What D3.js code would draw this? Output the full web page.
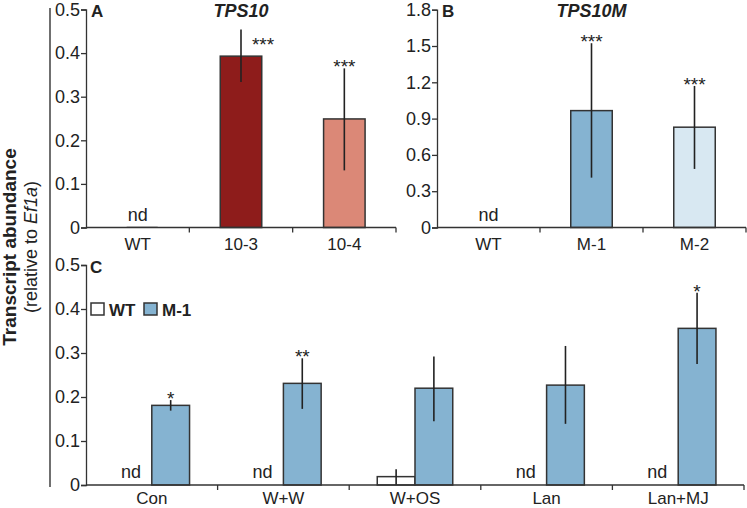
<!DOCTYPE html>
<html lang="en">
<head>
<meta charset="UTF-8">
<title>TPS10 transcripts</title>
<script src="https://d3js.org/d3.v7.min.js"></script>
<style>
  body { margin: 0; background: #fff; }
  text { font-family: "Liberation Sans", Arial, sans-serif; fill: #222; }
</style>
</head>
<body>
<div id="chart"></div>
<script>
// panel A
const catsA = ["WT", "10-3", "10-4"];
const valsA = [0, 0.393, 0.249];
const errHiA = [null, 0.454, 0.365];
const errLoA = [null, 0.334, 0.131];
const starsA = ["", "***", "***"];
const colorsA = ["#ffffff", "#8e1c1b", "#db8877"];
const ticksA = [0, 0.1, 0.2, 0.3, 0.4, 0.5];

// panel B
const catsB = ["WT", "M-1", "M-2"];
const valsB = [0, 0.966, 0.829];
const errHiB = [null, 1.523, 1.17];
const errLoB = [null, 0.412, 0.484];
const starsB = ["", "***", "***"];
const colorsB = ["#ffffff", "#85b3d1", "#d8e8f2"];
const ticksB = [0, 0.3, 0.6, 0.9, 1.2, 1.5, 1.8];

// panel C
const catsC = ["Con", "W+W", "W+OS", "Lan", "Lan+MJ"];
const seriesC = ["WT", "M-1"];
const wtC = [0, 0, 0.019, 0, 0];
const wtHiC = [null, null, 0.036, null, null];
const wtLoC = [null, null, 0.0, null, null];
const wtNd = [true, true, false, true, true];
const m1C = [0.181, 0.231, 0.22, 0.227, 0.356];
const m1HiC = [0.193, 0.288, 0.292, 0.316, 0.437];
const m1LoC = [0.169, 0.173, 0.145, 0.139, 0.275];
const starsC = ["*", "**", "", "", "*"];
const colorsC = ["#ffffff", "#85b3d1"];
const ticksC = [0, 0.1, 0.2, 0.3, 0.4, 0.5];

const W = 747, H = 508;
const svg = d3.select("#chart").append("svg")
  .attr("width", W).attr("height", H);

const axisCol = "#333";

function yAxis(g, y, ticks, fmt) {
  const ax = g.append("g")
    .call(d3.axisLeft(y).tickValues(ticks).tickSize(5).tickPadding(1).tickFormat(fmt));
  ax.select(".domain").attr("stroke", axisCol).attr("stroke-width", 1.3);
  ax.selectAll(".tick line").attr("stroke", axisCol).attr("stroke-width", 1.3);
  ax.selectAll(".tick text").style("font-size", "18px").attr("fill", "#222");
  return ax;
}

function xAxis(g, x, y0, dy) {
  // baseline with tick marks at band boundaries
  const r = x.range();
  g.append("line").attr("x1", r[0]).attr("x2", r[1]).attr("y1", y0).attr("y2", y0)
    .attr("stroke", axisCol).attr("stroke-width", 1.3);
  const bounds = x.domain().slice(1).map(d => x(d)).concat([r[1]]);
  g.selectAll(".bt").data(bounds).enter().append("line")
    .attr("x1", d => d).attr("x2", d => d).attr("y1", y0).attr("y2", y0 + 5)
    .attr("stroke", axisCol).attr("stroke-width", 1.3);
  g.selectAll(".xl").data(x.domain()).enter().append("text")
    .attr("x", d => x(d) + x.bandwidth() / 2).attr("y", y0 + dy)
    .attr("text-anchor", "middle").style("font-size", "17px").text(d => d);
}

function errBar(g, cx, y, hi, lo) {
  if (hi == null) return;
  g.append("line").attr("x1", cx).attr("x2", cx).attr("y1", y(hi)).attr("y2", y(lo))
    .attr("stroke", "#222").attr("stroke-width", 1.6);
}

function simplePanel(opts) {
  const g = svg.append("g");
  const x = d3.scaleBand().domain(opts.cats).range([opts.x0, opts.x1]).padding(0);
  const y = d3.scaleLinear().domain([0, opts.ymax]).range([opts.yb, opts.yt]);
  const bw = 41.5;
  opts.cats.forEach((c, i) => {
    const cx = x(c) + x.bandwidth() / 2;
    if (opts.vals[i] > 0) {
      g.append("rect").attr("x", cx - bw / 2).attr("y", y(opts.vals[i]))
        .attr("width", bw).attr("height", y(0) - y(opts.vals[i]))
        .attr("fill", opts.colors[i]).attr("stroke", "#333").attr("stroke-width", 1.5);
    } else {
      if (opts.zeroLine) {
        g.append("line").attr("x1", cx - 11).attr("x2", cx + 20).attr("y1", y(0) - 1).attr("y2", y(0) - 1)
          .attr("stroke", "#ccc").attr("stroke-width", 1);
      }
      g.append("text").attr("x", cx).attr("y", y(0) - 7).attr("text-anchor", "middle")
        .style("font-size", "18px").text("nd");
    }
    errBar(g, cx, y, opts.hi[i], opts.lo[i]);
    if (opts.stars[i]) {
      const shift = opts.starShift ? opts.starShift[i] : 0;
      const sy = opts.starY ? y(opts.starY[i]) : y(opts.hi[i]) - 3;
      g.append("text").attr("x", cx + shift).attr("y", sy + 8).attr("text-anchor", "middle")
        .style("font-size", "19px").text(opts.stars[i]);
    }
  });
  yAxis(g.append("g").attr("transform", `translate(${opts.x0},0)`), y, opts.ticks, opts.fmt);
  xAxis(g, x, y(0), 22);
  g.append("text").attr("x", opts.x0 + 5).attr("y", opts.yt + 7.5)
    .style("font-size", "17px").style("font-weight", "bold").text(opts.letter);
  g.append("text").attr("x", x(opts.cats[1]) + x.bandwidth() / 2).attr("y", opts.yt + 7)
    .attr("text-anchor", "middle").style("font-size", "18px")
    .style("font-weight", "bold").style("font-style", "italic").text(opts.title);
}

const fmtA = d => d === 0 ? "0" : d3.format(".1f")(d);

simplePanel({
  cats: catsA, vals: valsA, hi: errHiA, lo: errLoA, stars: starsA, colors: colorsA,
  ticks: ticksA, ymax: 0.5, x0: 86, x1: 396, yb: 227.5, yt: 9.5, fmt: fmtA,
  letter: "A", title: "TPS10", zeroLine: true,
  starShift: [0, 22, 0], starY: [0, 0.423, 0.373]
});

simplePanel({
  cats: catsB, vals: valsB, hi: errHiB, lo: errLoB, stars: starsB, colors: colorsB,
  ticks: ticksB, ymax: 1.8, x0: 437, x1: 746, yb: 227.5, yt: 9.7, fmt: fmtA,
  letter: "B", title: "TPS10M"
});

// panel C, grouped bars
(function () {
  const g = svg.append("g");
  const x0 = 86, x1 = 744, yb = 485, yt = 265;
  const x = d3.scaleBand().domain(catsC).range([x0, x1]).padding(0);
  const xs = d3.scaleBand().domain(seriesC).range([0, 75.5]);
  const y = d3.scaleLinear().domain([0, 0.5]).range([yb, yt]);
  catsC.forEach((c, i) => {
    const gx = x(c) + x.bandwidth() / 2 - 37.75;
    // WT bar
    const wx = gx + xs("WT");
    if (wtNd[i]) {
      g.append("text").attr("x", wx + xs.bandwidth() / 2 - 2).attr("y", yb - 7)
        .attr("text-anchor", "middle").style("font-size", "18px").text("nd");
    } else {
      g.append("rect").attr("x", wx).attr("y", y(wtC[i])).attr("width", xs.bandwidth())
        .attr("height", yb - y(wtC[i])).attr("fill", colorsC[0])
        .attr("stroke", "#333").attr("stroke-width", 1.5);
      errBar(g, wx + xs.bandwidth() / 2, y, wtHiC[i], wtLoC[i]);
    }
    // M-1 bar
    const mx = gx + xs("M-1");
    g.append("rect").attr("x", mx).attr("y", y(m1C[i])).attr("width", xs.bandwidth())
      .attr("height", yb - y(m1C[i])).attr("fill", colorsC[1])
      .attr("stroke", "#333").attr("stroke-width", 1.5);
    errBar(g, mx + xs.bandwidth() / 2, y, m1HiC[i], m1LoC[i]);
    if (starsC[i]) {
      g.append("text").attr("x", mx + xs.bandwidth() / 2).attr("y", y(m1HiC[i]) + 5)
        .attr("text-anchor", "middle").style("font-size", "19px").text(starsC[i]);
    }
  });
  yAxis(g.append("g").attr("transform", `translate(${x0},0)`), y, ticksC, fmtA);
  xAxis(g, x, yb, 19);
  g.append("text").attr("x", x0 + 4).attr("y", yt + 8)
    .style("font-size", "17px").style("font-weight", "bold").text("C");

  // legend
  const lg = g.append("g").attr("transform", "translate(91,303)");
  const items = lg.selectAll("g").data(seriesC).enter().append("g")
    .attr("transform", (d, i) => `translate(${i * 53},0)`);
  items.append("rect").attr("width", 13).attr("height", 12)
    .attr("fill", (d, i) => colorsC[i]).attr("stroke", "#333").attr("stroke-width", 1.5);
  items.append("text").attr("x", 18).attr("y", 12.5)
    .style("font-size", "17px").style("font-weight", "bold").text(d => d);
})();

// shared y title with bracket line
svg.append("line").attr("x1", 50).attr("x2", 50).attr("y1", 8).attr("y2", 487)
  .attr("stroke", "#222").attr("stroke-width", 1.3);
svg.append("text").attr("transform", "translate(16,247) rotate(-90)")
  .attr("text-anchor", "middle").style("font-size", "19px").style("font-weight", "bold")
  .text("Transcript abundance");
const t2 = svg.append("text").attr("transform", "translate(37,247) rotate(-90)")
  .attr("text-anchor", "middle").style("font-size", "18px");
t2.append("tspan").text("(relative to ");
t2.append("tspan").style("font-style", "italic").text("Ef1a");
t2.append("tspan").text(")");
</script>
</body>
</html>
